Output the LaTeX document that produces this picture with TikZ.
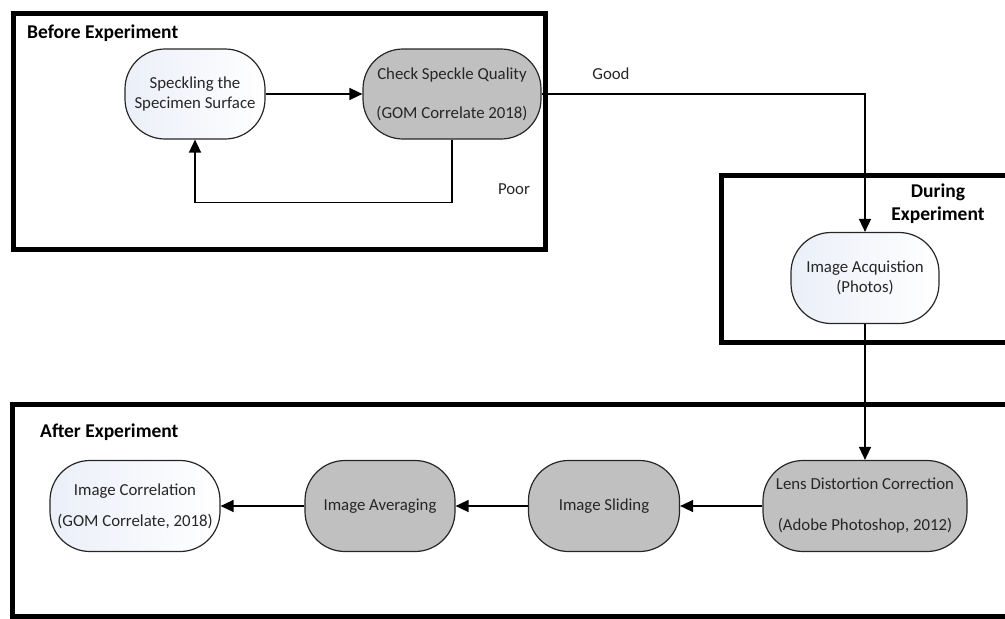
\documentclass[tikz,border=0pt]{standalone}
\usepackage{fontspec}
\setmainfont{Carlito}
\usetikzlibrary{arrows.meta}
\definecolor{grayfill}{HTML}{C0C0C0}
\definecolor{lightblue}{HTML}{EBEFF8}
\definecolor{inkgray}{HTML}{262626}
\begin{document}
\begin{tikzpicture}[x=1pt,y=-1pt,
  frame/.style={line width=5pt, draw=black},
  proc/.style={draw=inkgray, line width=1.2pt, rounded corners=40pt, align=center,
    inner sep=0pt, font=\fontsize{16.8}{20}\selectfont, text=inkgray},
  grayproc/.style={proc, fill=grayfill},
  whiteproc/.style={proc, left color=lightblue, right color=white},
  conn/.style={line width=1.5pt, -{Triangle[length=13pt,width=12pt]}},
  title/.style={font=\fontsize{19.5}{23}\selectfont\bfseries, inner sep=0pt},
  lbl/.style={font=\fontsize{16.8}{20}\selectfont, inner sep=0pt, text=inkgray}]
\useasboundingbox (0,0) rectangle (1005,619);
\clip (0,0) rectangle (1005,619);
% frames
\draw[frame] (13,13) rectangle (545,249);
\draw[frame] (721,175) rectangle (1012,342);
\draw[frame] (12,404) rectangle (1012,616);
% titles
\node[title, anchor=west] (tb) at (27,33) {Before Experiment};
\node[title, anchor=west] (ta) at (40,432) {After Experiment};
\node[title, align=center] (td) at (938,204) {During\\Experiment};
% process nodes
\node[whiteproc, minimum width=140pt, minimum height=90pt] (s1) at (195,94) {Speckling the\\Specimen Surface};
\node[grayproc, minimum width=178pt, minimum height=90pt] (s2) at (452,94) {Check Speckle Quality\\[19pt](GOM Correlate 2018)};
\node[whiteproc, minimum width=148pt, minimum height=91pt] (ia) at (865,278) {Image Acquistion\\(Photos)};
\node[grayproc, minimum width=204pt, minimum height=91pt] (ld) at (865,506) {Lens Distortion Correction\\[21pt](Adobe Photoshop, 2012)};
\node[grayproc, minimum width=151pt, minimum height=91pt] (sl) at (604,506) {Image Sliding};
\node[grayproc, minimum width=150pt, minimum height=91pt] (av) at (380,506) {Image Averaging};
\node[whiteproc, minimum width=170pt, minimum height=91pt] (ic) at (135,506) {Image Correlation\\[11pt](GOM Correlate, 2018)};
% labels
\node[lbl] (good) at (611,74) {Good};
\node[lbl] (poor) at (514,189) {Poor};
% connectors
\draw[conn] (s1) -- (s2);
\draw[conn] (s2.south) -- ++(0,63) -| (s1.south);
\draw[conn] (s2.east) -| (ia.north);
\draw[conn] (ia.south) -- (ld.north);
\draw[conn] (ld) -- (sl);
\draw[conn] (sl) -- (av);
\draw[conn] (av) -- (ic);
\end{tikzpicture}
\end{document}
